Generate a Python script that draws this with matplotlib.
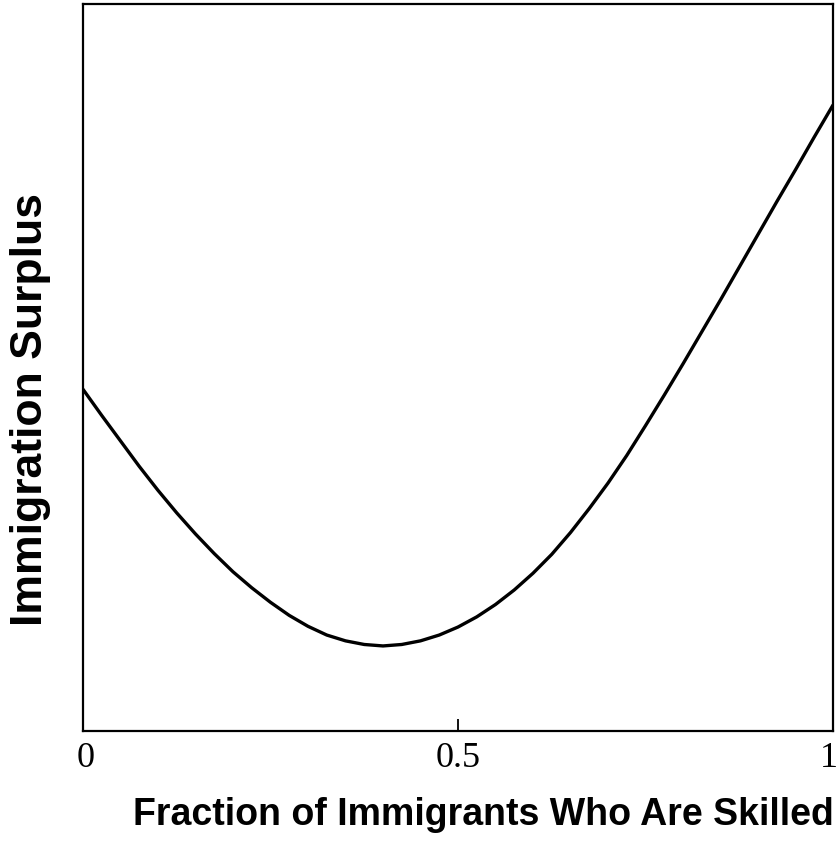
import matplotlib
matplotlib.use("Agg")
import matplotlib.pyplot as plt
from matplotlib.transforms import ScaledTranslation

# Data (arbitrary vertical units, 0-1 axis range)
frac_skilled = [0.0, 0.025, 0.05, 0.075, 0.10, 0.125, 0.15, 0.175, 0.20, 0.225,
                0.25, 0.275, 0.30, 0.325, 0.35, 0.375, 0.40, 0.425, 0.45, 0.475,
                0.50, 0.525, 0.55, 0.575, 0.60, 0.625, 0.65, 0.675, 0.70, 0.725,
                0.75, 0.775, 0.80, 0.825, 0.85, 0.875, 0.90, 0.925, 0.95, 0.975,
                1.0]
surplus = [0.470, 0.434, 0.399, 0.364, 0.331, 0.300, 0.271, 0.244, 0.219, 0.197,
           0.177, 0.159, 0.144, 0.132, 0.124, 0.119, 0.117, 0.119, 0.124, 0.132,
           0.143, 0.157, 0.174, 0.194, 0.217, 0.243, 0.273, 0.306, 0.341, 0.379,
           0.420, 0.462, 0.505, 0.549, 0.593, 0.638, 0.683, 0.728, 0.772, 0.817,
           0.861]
xticks = [0, 0.5, 1]
xticklabels = ["0", "0.5", "1"]

fig = plt.figure(figsize=(8.4, 8.64), dpi=100)
ax = fig.add_axes([83 / 840, 133 / 864, 750 / 840, 727 / 864])
ax.plot(frac_skilled, surplus, color="black", lw=2.4, solid_joinstyle="round",
        solid_capstyle="round")
ax.set_xlim(0, 1)
ax.set_ylim(0, 1)
for s in ax.spines.values():
    s.set_linewidth(1.6)
ax.set_yticks([])
ax.set_xticks(xticks)
ax.set_xticklabels(xticklabels, fontfamily="Liberation Serif", fontsize=26)
ax.tick_params(axis="x", direction="in", length=9, width=1.3, pad=8)
labs = ax.get_xticklabels()
labs[0].set_transform(labs[0].get_transform() + ScaledTranslation(3 / 100, 0, fig.dpi_scale_trans))
labs[-1].set_transform(labs[-1].get_transform() + ScaledTranslation(-4 / 100, 0, fig.dpi_scale_trans))

fig.text(31 / 840, 1 - 410 / 864, "Immigration Surplus", rotation=90,
         ha="center", va="center", fontsize=32, fontweight="bold",
         fontfamily="Liberation Sans")
fig.text(483 / 840, 1 - 815 / 864, "Fraction of Immigrants Who Are Skilled",
         ha="center", va="center", fontsize=27, fontweight="bold",
         fontfamily="Liberation Sans")

fig.savefig("out.png", dpi=100)
